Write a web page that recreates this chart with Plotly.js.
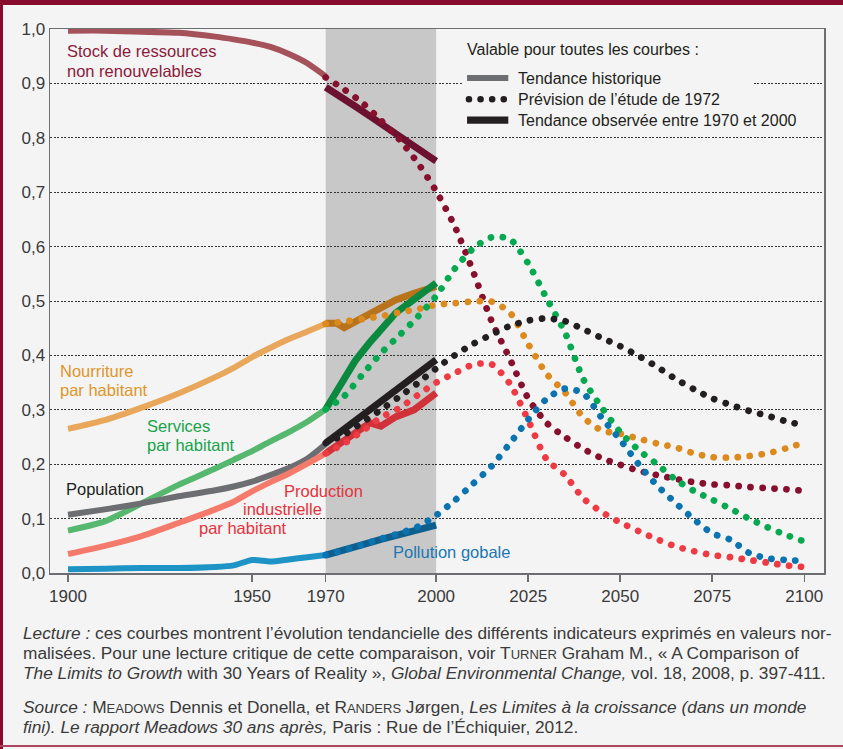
<!DOCTYPE html>
<html>
<head>
<meta charset="utf-8">
<script src="https://cdn.plot.ly/plotly-3.0.1.min.js"></script>
<style>
  html, body { margin: 0; padding: 0; background: #f4f4f4; }
  #wrap { position: relative; width: 843px; height: 749px; overflow: hidden; }
  #chart { position: absolute; left: 0; top: 0; width: 843px; height: 749px; }
  .frame { position: absolute; pointer-events: none; }
  g[class*="tracedot"] path.js-line { stroke-linecap: round; }
  .shapelayer path { stroke-linecap: round; }
</style>
</head>
<body>
<div id="wrap">
  <div id="chart"></div>
  <div class="frame" style="left:0;top:0;width:843px;height:5px;background:#870b2d;"></div>
  <div class="frame" style="left:0;top:0;width:3px;height:749px;background:#870b2d;"></div>
  <div class="frame" style="left:0;top:745px;width:843px;height:2px;background:#b0445f;"></div>
</div>
<script>
// ---------- DATA ----------
const histYears = [1900, 1910, 1920, 1930, 1940, 1945, 1950, 1955, 1960, 1965, 1970];
const obsYears  = [1970, 1973, 1975, 1978, 1982, 1985, 1989, 1994, 2000];
const foreYears = [1970, 1975, 1980, 1985, 1990, 1995, 2000, 2005, 2010, 2015, 2020, 2025, 2030,
                   2035, 2040, 2045, 2050, 2055, 2060, 2065, 2070, 2075, 2080, 2085, 2090, 2095, 2100];

// Stock de ressources non renouvelables
const stockHist = [0.997, 0.997, 0.995, 0.993, 0.986, 0.981, 0.975, 0.967, 0.954, 0.937, 0.913];
const stockObs  = [0.893, 0.881, 0.872, 0.858, 0.840, 0.826, 0.808, 0.785, 0.757];
const stockFore = [0.911, 0.889, 0.864, 0.832, 0.797, 0.754, 0.702, 0.638, 0.555, 0.464, 0.394, 0.321, 0.276,
                   0.250, 0.228, 0.211, 0.199, 0.188, 0.180, 0.173, 0.167, 0.163, 0.161, 0.158, 0.156, 0.154, 0.151];

// Nourriture par habitant
const foodHist = [0.265, 0.281, 0.304, 0.330, 0.360, 0.377, 0.397, 0.414, 0.430, 0.444, 0.458];
const foodObs  = [0.459, 0.459, 0.451, 0.462, 0.477, 0.490, 0.502, 0.514, 0.527];
const foodFore = [0.458, 0.462, 0.467, 0.472, 0.479, 0.485, 0.493, 0.496, 0.499, 0.499, 0.479, 0.421, 0.366,
                  0.332, 0.286, 0.262, 0.256, 0.247, 0.238, 0.231, 0.220, 0.213, 0.212, 0.215, 0.220, 0.229, 0.240];

// Services par habitant
const servHist = [0.078, 0.095, 0.128, 0.162, 0.192, 0.208, 0.224, 0.242, 0.259, 0.278, 0.301];
const servObs  = [0.301, 0.335, 0.360, 0.390, 0.424, 0.448, 0.478, 0.503, 0.533];
const servFore = [0.301, 0.325, 0.365, 0.404, 0.437, 0.471, 0.509, 0.559, 0.596, 0.617, 0.614, 0.569, 0.505,
                  0.442, 0.356, 0.304, 0.259, 0.226, 0.200, 0.172, 0.151, 0.135, 0.118, 0.100, 0.084, 0.070, 0.058];

// Population
const popHist = [0.107, 0.117, 0.128, 0.141, 0.152, 0.159, 0.168, 0.180, 0.193, 0.210, 0.237];
const popObs  = [0.239, 0.254, 0.265, 0.280, 0.300, 0.316, 0.336, 0.362, 0.392];
const popFore = [0.239, 0.254, 0.277, 0.300, 0.324, 0.349, 0.376, 0.400, 0.421, 0.438, 0.454, 0.464, 0.468,
                 0.463, 0.448, 0.432, 0.417, 0.399, 0.379, 0.357, 0.338, 0.321, 0.309, 0.298, 0.289, 0.279, 0.271];

// Production industrielle par habitant
const prodHist = [0.035, 0.050, 0.068, 0.092, 0.117, 0.131, 0.150, 0.167, 0.183, 0.201, 0.220];
const prodObs  = [0.220, 0.234, 0.245, 0.259, 0.276, 0.270, 0.287, 0.300, 0.331];
const prodFore = [0.220, 0.238, 0.261, 0.286, 0.303, 0.327, 0.350, 0.367, 0.383, 0.384, 0.348, 0.281, 0.209,
                  0.180, 0.137, 0.112, 0.093, 0.077, 0.062, 0.049, 0.040, 0.033, 0.029, 0.024, 0.019, 0.014, 0.011];

// Pollution globale
const pollHist = [0.007, 0.008, 0.009, 0.009, 0.011, 0.014, 0.024, 0.021, 0.025, 0.029, 0.033];
const pollObs  = [0.033, 0.038, 0.042, 0.048, 0.056, 0.062, 0.069, 0.078, 0.088];
const pollFore = [0.033, 0.042, 0.052, 0.063, 0.073, 0.085, 0.106, 0.133, 0.164, 0.196, 0.238, 0.282, 0.320,
                  0.339, 0.330, 0.285, 0.245, 0.200, 0.161, 0.129, 0.099, 0.073, 0.061, 0.037, 0.027, 0.024, 0.022];

const xTickVals = [1900, 1950, 1970, 2000, 2025, 2050, 2075, 2100];
const xTickText = ['1900', '1950', '1970', '2000', '2025', '2050', '2075', '2100'];

// ---------- STYLE ----------
const FONT = '"Liberation Sans", Arial, sans-serif';
const series = [
  {id: 'stock', hist: stockHist, obs: stockObs, fore: stockFore, cH: '#a6525a', cO: '#6c1130', cF: '#87102f'},
  {id: 'food',  hist: foodHist,  obs: foodObs,  fore: foodFore,  cH: '#e8a75a', cO: '#b8731b', cF: '#dc8a1e'},
  {id: 'serv',  hist: servHist,  obs: servObs,  fore: servFore,  cH: '#56b86e', cO: '#0b8a3f', cF: '#06a850'},
  {id: 'pop',   hist: popHist,   obs: popObs,   fore: popFore,   cH: '#6d6e71', cO: '#231f20', cF: '#231f20'},
  {id: 'prod',  hist: prodHist,  obs: prodObs,  fore: prodFore,  cH: '#f47b6b', cO: '#d13239', cF: '#ee3a42'},
  {id: 'poll',  hist: pollHist,  obs: pollObs,  fore: pollFore,  cH: '#1e93c6', cO: '#0e5f8e', cF: '#0b73b0'}
];

const traces = [];
series.forEach(s => traces.push({
  type: 'scatter', mode: 'lines', x: histYears, y: s.hist, hoverinfo: 'skip', showlegend: false,
  line: {color: s.cH, width: 6, shape: 'spline', smoothing: 0.6}
}));
series.forEach(s => traces.push({
  type: 'scatter', mode: 'lines', x: obsYears, y: s.obs, hoverinfo: 'skip', showlegend: false,
  line: {color: s.cO, width: 7}
}));
series.forEach(s => traces.push({
  type: 'scatter', mode: 'lines', x: foreYears, y: s.fore, hoverinfo: 'skip', showlegend: false,
  uid: 'dot' + s.id,
  line: {color: s.cF, width: 6.7, dash: '0.1px,11.9px', shape: 'spline', smoothing: 0.7}
}));

function lab(text, x, y, color, size) {
  return {text: text, x: x, y: y, xref: 'x', yref: 'y', xanchor: 'left', yanchor: 'middle',
          showarrow: false, font: {family: FONT, size: size || 16.5, color: color}};
}
function cap(text, y) {
  return {text: text, x: -0.0375, y: y, xref: 'paper', yref: 'paper', xanchor: 'left', yanchor: 'middle',
          showarrow: false, align: 'left', font: {family: FONT, size: 17.3, color: '#3a3a3a'}};
}
const sc = t => "<span style='font-size:13px'>" + t + "</span>";

const annotations = [
  lab('Stock de ressources', 1899.3, 0.959, '#8b1a3b'),
  lab('non renouvelables', 1899.3, 0.922, '#8b1a3b'),
  lab('Nourriture', 1897.2, 0.372, '#e0962a'),
  lab('par habitant', 1897.2, 0.337, '#e0962a'),
  lab('Services', 1921.0, 0.271, '#16a34a'),
  lab('par habitant', 1921.0, 0.235, '#16a34a'),
  lab('Population', 1898.8, 0.155, '#231f20'),
  lab('Production', 1958.2, 0.150, '#e5323c'),
  lab('industrielle', 1946.9, 0.118, '#e5323c'),
  lab('par habitant', 1935.0, 0.083, '#e5323c'),
  lab('Pollution gobale', 1987.7, 0.039, '#1b76b2'),
  lab('Valable pour toutes les courbes :', 2007.8, 0.963, '#231f20', 16),
  lab('Tendance historique', 2021.7, 0.9098, '#231f20', 16),
  lab('Prévision de l’étude de 1972', 2021.7, 0.871, '#231f20', 16),
  lab('Tendance observée entre 1970 et 2000', 2021.7, 0.8324, '#231f20', 16),
  cap('<i>Lecture :</i> ces courbes montrent l’évolution tendancielle des différents indicateurs exprimés en valeurs nor-', -0.1103),
  cap('malisées. Pour une lecture critique de cette comparaison, voir T' + sc('URNER') + ' Graham M., « A Comparison of', -0.1471),
  cap('<i>The Limits to Growth</i> with 30 Years of Reality », <i>Global Environmental Change,</i> vol. 18, 2008, p. 397-411.', -0.1838),
  cap('<i>Source :</i> M' + sc('EADOWS') + ' Dennis et Donella, et R' + sc('ANDERS') + ' Jørgen, <i>Les Limites à la croissance (dans un monde</i>', -0.2463),
  cap('<i>fini). Le rapport Meadows 30 ans après,</i> Paris : Rue de l’Échiquier, 2012.', -0.2831)
];

const shapes = [
  {type: 'rect', xref: 'x', yref: 'y', x0: 1970, x1: 2000, y0: 0, y1: 1, fillcolor: '#c8c8c8',
   line: {width: 0}, layer: 'below'},
  {type: 'rect', xref: 'x', yref: 'y', x0: 2007.0, x1: 2086.2, y0: 0.81, y1: 0.995, fillcolor: '#f4f4f4',
   line: {width: 0}, layer: 'above'},
  {type: 'rect', xref: 'x', yref: 'y', x0: 2008.4, x1: 2019.6, y0: 0.9043, y1: 0.9153, fillcolor: '#6d6e71',
   line: {width: 0}, layer: 'above'},
  {type: 'line', xref: 'x', yref: 'y', x0: 2008.9, x1: 2018.5, y0: 0.871, y1: 0.871,
   line: {color: '#231f20', width: 6.5, dash: '0.1px,11.5px'}, layer: 'above'},
  {type: 'rect', xref: 'x', yref: 'y', x0: 2008.4, x1: 2019.6, y0: 0.8256, y1: 0.8392, fillcolor: '#231f20',
   line: {width: 0}, layer: 'above'}
];

const layout = {
  width: 843, height: 749,
  margin: {l: 50, r: 19, t: 29, b: 176, pad: 0},
  paper_bgcolor: '#f4f4f4', plot_bgcolor: '#f4f4f4',
  separators: ', ',
  showlegend: false,
  font: {family: FONT, color: '#3a3a3a'},
  xaxis: {
    range: [1895.105, 2105.36], tickmode: 'array', tickvals: xTickVals, ticktext: xTickText,
    ticks: 'outside', ticklen: 7, tickwidth: 1.5, tickcolor: '#6d6e71',
    showline: true, linecolor: '#6d6e71', linewidth: 1.5, mirror: true,
    showgrid: false, zeroline: false, tickfont: {family: FONT, size: 17, color: '#3a3a3a'}
  },
  yaxis: {
    range: [0, 1], tickmode: 'linear', tick0: 0, dtick: 0.1, tickformat: '.1f',
    ticks: '', showline: true, linecolor: '#6d6e71', linewidth: 1.5, mirror: true,
    showgrid: true, gridcolor: '#333333', gridwidth: 1, griddash: '2px,1.5px',
    zeroline: false, tickfont: {family: FONT, size: 17, color: '#3a3a3a'}
  },
  shapes: shapes,
  annotations: annotations
};

Plotly.newPlot('chart', traces, layout, {displayModeBar: false, staticPlot: true});
</script>
</body>
</html>
